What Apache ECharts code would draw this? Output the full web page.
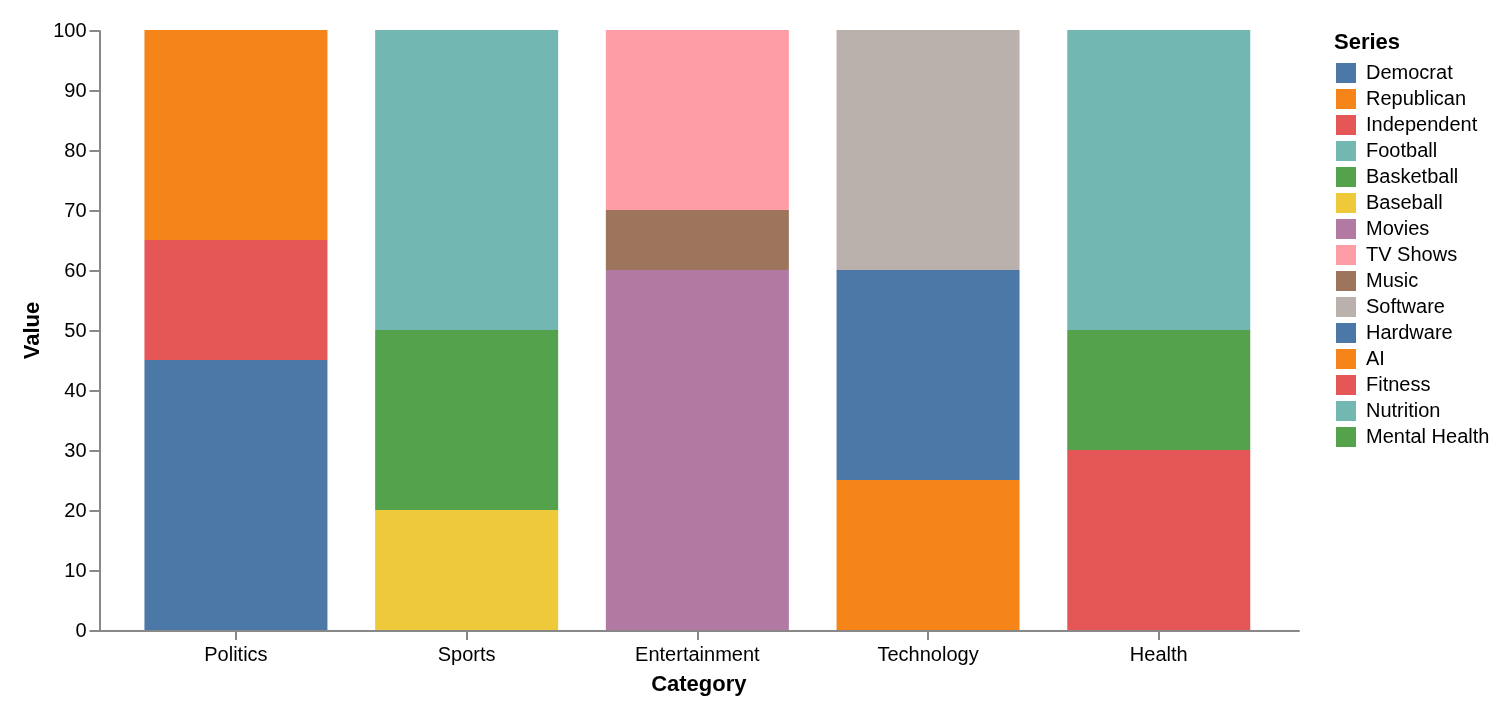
<!DOCTYPE html>
<html><head><meta charset="utf-8">
<style>html,body{margin:0;padding:0;background:#fff}#c{width:1510px;height:714px}</style>
<script src="https://cdn.jsdelivr.net/npm/echarts@6/dist/echarts.min.js"></script>
</head><body><div id="c"></div>
<script>
const categories = ["Politics","Sports","Entertainment","Technology","Health"];
const legendOrder = ["Democrat","Republican","Independent","Football","Basketball","Baseball","Movies","TV Shows","Music","Software","Hardware","AI","Fitness","Nutrition","Mental Health"];
const palette = ["#4c78a8","#f58518","#e45756","#72b7b2","#54a24b","#eeca3b","#b279a2","#ff9da6","#9d755d","#bab0ac","#4c78a8","#f58518","#e45756","#72b7b2","#54a24b"];
const Democrat = [45,null,null,null,null];
const Independent = [20,null,null,null,null];
const Republican = [35,null,null,null,null];
const Baseball = [null,20,null,null,null];
const Basketball = [null,30,null,null,null];
const Football = [null,50,null,null,null];
const Movies = [null,null,60,null,null];
const Music = [null,null,10,null,null];
const TVShows = [null,null,30,null,null];
const AI = [null,null,null,25,null];
const Hardware = [null,null,null,35,null];
const Software = [null,null,null,40,null];
const Fitness = [null,null,null,null,30];
const MentalHealth = [null,null,null,null,20];
const Nutrition = [null,null,null,null,50];
const stackOrder = [["Democrat",Democrat],["Independent",Independent],["Republican",Republican],["Baseball",Baseball],["Basketball",Basketball],["Football",Football],["Movies",Movies],["Music",Music],["TV Shows",TVShows],["AI",AI],["Hardware",Hardware],["Software",Software],["Fitness",Fitness],["Mental Health",MentalHealth],["Nutrition",Nutrition]];
const FONT = '"Liberation Sans", Arial, sans-serif';
const GREY = '#888888';
const chart = echarts.init(document.getElementById('c'), null, {renderer:'canvas'});
chart.setOption({
  animation:false,
  backgroundColor:'#fff',
  textStyle:{fontFamily:FONT},
  title:{text:'Series',left:1334,top:32,textStyle:{fontFamily:FONT,fontSize:22,fontWeight:'bold',color:'#000'},padding:0},
  legend:{
    data:legendOrder.map(n=>({name:n})),
    orient:'vertical',left:1336,top:63,itemWidth:20,itemHeight:20,itemGap:6,icon:'rect',padding:0,
    selectedMode:false,
    textStyle:{fontFamily:FONT,fontSize:20,color:'#000',padding:[6,0,0,5]},
    itemStyle:{borderWidth:0}
  },
  grid:[
    {left:99.5,top:31,width:1199.5,height:600,containLabel:false},
    {left:120.6,top:30,width:1153.5,height:600,containLabel:false}
  ],
  xAxis:[
    {gridIndex:0,type:'category',data:[''],axisTick:{show:false},axisLabel:{show:false},
     axisLine:{lineStyle:{color:GREY,width:2}}},
    {gridIndex:1,type:'category',data:categories,offset:1,
     name:'Category',nameLocation:'middle',nameGap:43,
     nameTextStyle:{fontFamily:FONT,fontSize:22,fontWeight:'bold',color:'#000',padding:[0,0,0,3]},
     axisLine:{show:false},
     axisTick:{show:true,alignWithLabel:true,length:10,lineStyle:{color:GREY,width:2}},
     axisLabel:{fontFamily:FONT,fontSize:20,color:'#000',margin:14}}
  ],
  yAxis:[
    {gridIndex:0,type:'value',min:0,max:100,interval:10,
     name:'Value',nameLocation:'middle',nameGap:56,nameRotate:90,nameMoveOverlap:false,
     nameTextStyle:{fontFamily:FONT,fontSize:22,fontWeight:'bold',color:'#000',padding:[0,0,0,1]},
     axisLine:{show:true,lineStyle:{color:GREY,width:2}},
     axisTick:{show:true,length:10,lineStyle:{color:GREY,width:2}},
     axisLabel:{fontFamily:FONT,fontSize:20,color:'#000',margin:13,padding:[4,0,0,0]},
     splitLine:{show:false}},
    {gridIndex:1,type:'value',min:0,max:100,interval:10,show:false,splitLine:{show:false}}
  ],
  series:stackOrder.map(([name,values])=>({
    name,type:'bar',stack:'total',xAxisIndex:1,yAxisIndex:1,barWidth:183,
    data:values,
    itemStyle:{color:palette[legendOrder.indexOf(name)],borderWidth:0}
  }))
});
</script></body></html>
